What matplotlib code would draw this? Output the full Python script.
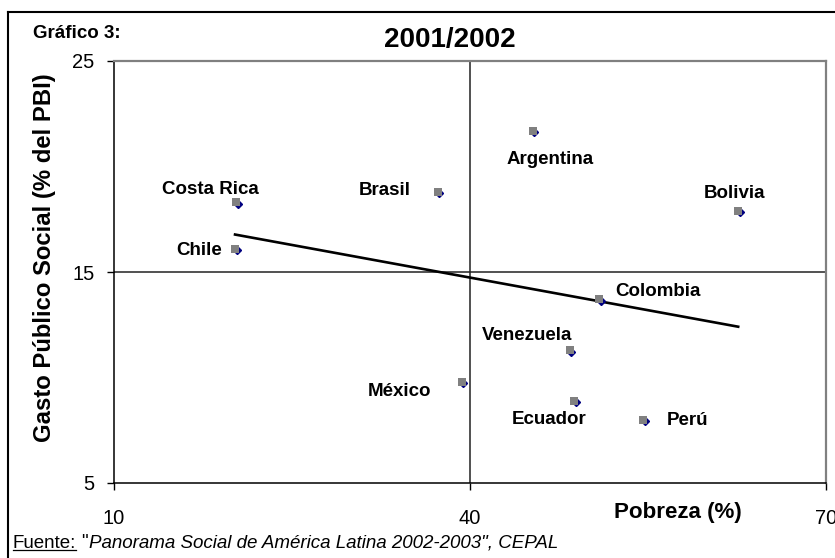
import numpy as np
import matplotlib
matplotlib.use("Agg")
import matplotlib.pyplot as plt
from matplotlib.lines import Line2D
from matplotlib import transforms

plt.rcParams['font.family'] = ['Liberation Sans', 'DejaVu Sans']

# Pobreza (%) vs. Gasto Público Social (% del PBI), 2001/2002
paises = ["Costa Rica", "Chile", "Brasil", "Argentina", "Bolivia",
          "Colombia", "Venezuela", "México", "Ecuador", "Perú"]
pobreza = [20.3, 20.2, 37.3, 45.3, 62.6, 50.9, 48.4, 39.3, 48.8, 54.6]
gasto = [18.3, 16.1, 18.8, 21.7, 17.9, 13.7, 11.3, 9.8, 8.9, 8.0]

x_ticks = [10, 40, 70]
y_ticks = [5, 15, 25]
x_cruce = 40
y_cruce = 15

# label placement around each marker (offset of text centre, in pixels)
label_offsets = {
    "Costa Rica": (-26, 8), "Chile": (-36, -6), "Brasil": (-53, -3),
    "Argentina": (17, -33), "Bolivia": (-4, 13), "Colombia": (59, 3),
    "Venezuela": (-43, 10), "México": (-62, -14), "Ecuador": (-25, -23),
    "Perú": (44, -5),
}

W, H = 835, 558
fig = plt.figure(figsize=(W / 100, H / 100), dpi=100)
ax = fig.add_axes([114 / W, 1 - 483 / H, (826 - 114) / W, (483 - 61) / H])

ax.set_xlim(x_ticks[0], x_ticks[-1])
ax.set_ylim(y_ticks[0], y_ticks[-1])
ax.set_xticks(x_ticks)
ax.set_yticks(y_ticks)
ax.set_xticklabels([str(v) for v in x_ticks])
ax.set_yticklabels([str(v) for v in y_ticks])
ax.tick_params(axis='both', direction='out', length=5, width=1.0,
               colors='black', labelsize=14.5)
ax.tick_params(axis='x', pad=14)
ax.tick_params(axis='y', pad=9)

for side in ('left', 'bottom'):
    ax.spines[side].set_color('black')
    ax.spines[side].set_linewidth(1.1)
for side in ('top', 'right'):
    ax.spines[side].set_color('#808080')
    ax.spines[side].set_linewidth(1.6)

# crosshair lines
ax.axvline(x_cruce, color='#222222', lw=1.1, zorder=1)
ax.axhline(y_cruce, color='#222222', lw=1.1, zorder=1)

# linear trend
coef = np.polyfit(pobreza, gasto, 1)
xs = np.array([min(pobreza), max(pobreza)])
ax.plot(xs, np.polyval(coef, xs), color='black', lw=1.9, zorder=2)

# markers: small navy shadow under a grey square
shadow = transforms.offset_copy(ax.transData, fig=fig, x=1.5, y=-1.5, units='dots')
ax.plot(pobreza, gasto, linestyle='none', marker='D', markersize=4.2,
        color='#000080', transform=shadow, zorder=3)
ax.plot(pobreza, gasto, linestyle='none', marker='s', markersize=5.8,
        color='#808080', markeredgewidth=0, zorder=4)

for name, xv, yv in zip(paises, pobreza, gasto):
    dx, dy = label_offsets[name]
    ax.annotate(name, (xv, yv), xytext=(dx, dy), textcoords='offset pixels',
                ha='center', va='baseline', fontsize=13.5, fontweight='bold',
                zorder=5)

# titles
fig.text(33 / W, 1 - 38 / H, "Gráfico 3:", fontsize=13.5, fontweight='bold',
         ha='left', va='baseline')
fig.text(449.5 / W, 1 - 47 / H, "2001/2002", fontsize=20, fontweight='bold',
         ha='center', va='baseline')
fig.text(45 / W, 1 - 257.5 / H, "Gasto Público Social (% del PBI)",
         fontsize=17.2, fontweight='bold', rotation=90, ha='center', va='center')
fig.text(678 / W, 1 - 518 / H, "Pobreza (%)", fontsize=16.1, fontweight='bold',
         ha='center', va='baseline')

# outer frame (top and left edges)
fig.add_artist(Line2D([8 / W, 1.0], [1 - 12 / H, 1 - 12 / H], color='black',
                      lw=1.5, transform=fig.transFigure))
fig.add_artist(Line2D([8 / W, 8 / W], [1 - 12 / H, 0.0], color='black',
                      lw=1.5, transform=fig.transFigure))

# source line
fig.canvas.draw()
renderer = fig.canvas.get_renderer()
fs_src = 13.5
base_y = 1 - 547.5 / H
t1 = fig.text(13 / W, base_y, "Fuente:", fontsize=fs_src, ha='left', va='baseline')
bb = t1.get_window_extent(renderer)
ul_y = (H - 550) / H
fig.add_artist(Line2D([bb.x0 / W, bb.x1 / W], [ul_y, ul_y], color='black',
                      lw=0.9, transform=fig.transFigure))
space = 0.278 * fs_src * 100 / 72
t2 = fig.text((bb.x1 + space) / W, base_y, '"', fontsize=fs_src,
              ha='left', va='baseline')
bb2 = t2.get_window_extent(renderer)
fig.text((bb2.x1 + 1) / W, base_y,
         'Panorama Social de América Latina 2002-2003", CEPAL',
         fontsize=fs_src, style='italic', ha='left', va='baseline')

fig.savefig("out.png", dpi=100)
